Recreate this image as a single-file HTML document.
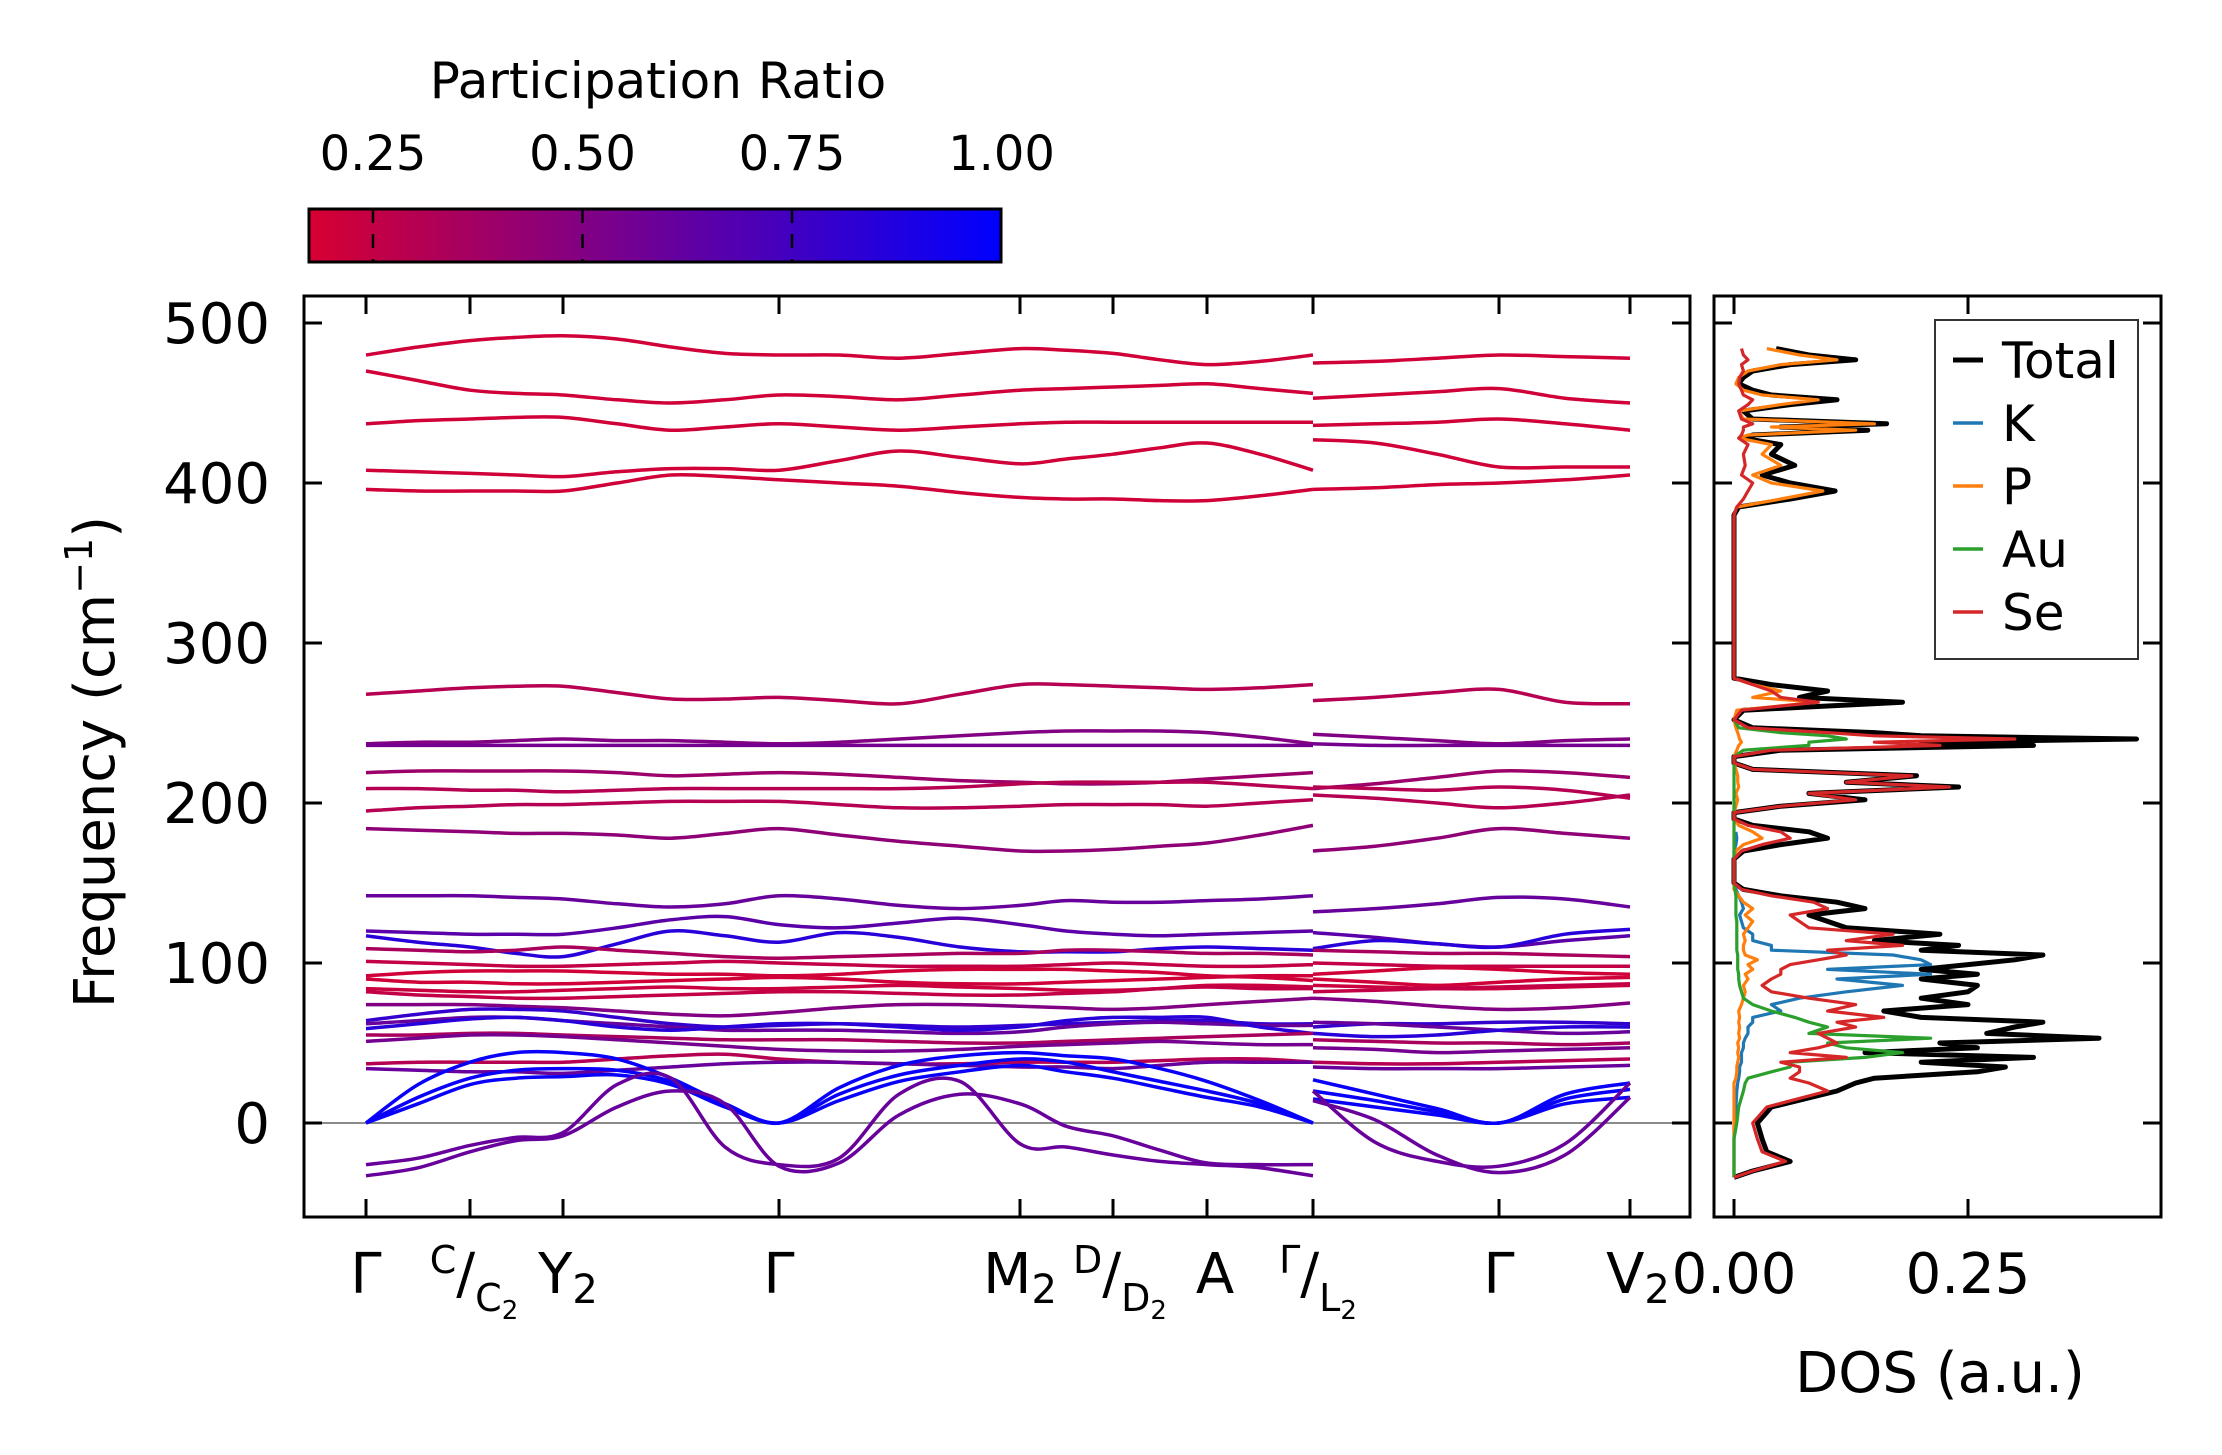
<!DOCTYPE html>
<html><head><meta charset="utf-8">
<style>
html,body{margin:0;padding:0;background:#fff;}
svg{display:block;font-family:"DejaVu Sans","Liberation Sans",sans-serif;}
</style></head>
<body>
<svg id="fig" width="2222" height="1455" viewBox="0 0 2222 1455" xmlns="http://www.w3.org/2000/svg">
<defs>
<linearGradient id="cbgrad" x1="0" x2="1" y1="0" y2="0">
<stop offset="0" stop-color="rgb(215,0,50)"/><stop offset="1" stop-color="rgb(0,0,255)"/>
</linearGradient>
<clipPath id="mainclip"><rect x="304" y="296" width="1386" height="921"/></clipPath>
<clipPath id="dosclip"><rect x="1714" y="296" width="447" height="921"/></clipPath>
</defs>
<rect x="0" y="0" width="2222" height="1455" fill="#fff"/>
<g id="colorbar">
<rect x="309" y="209" width="692" height="53" fill="url(#cbgrad)" stroke="#000" stroke-width="3"/>
<text x="658" y="98" font-size="50" text-anchor="middle">Participation Ratio</text>
</g>
<g id="bands" clip-path="url(#mainclip)"></g>
<g id="dos" clip-path="url(#dosclip)"></g>
<g id="axes"></g>
<g id="legend">
<rect x="1935" y="320" width="203" height="339" fill="#fff" stroke="#333" stroke-width="2"/>
</g>
<g font-size="56" text-anchor="middle">
<text x="366" y="1293">Γ</text>
<text x="474" y="1293"><tspan font-size="38" dy="-20">C</tspan><tspan dy="20">/</tspan><tspan font-size="38" dy="18">C</tspan><tspan font-size="26" dy="8">2</tspan></text>
<text x="568" y="1293">Y<tspan font-size="40" dy="10">2</tspan></text>
<text x="779" y="1293">Γ</text>
<text x="1020" y="1293">M<tspan font-size="40" dy="10">2</tspan></text>
<text x="1120" y="1293"><tspan font-size="38" dy="-20">D</tspan><tspan dy="20">/</tspan><tspan font-size="38" dy="18">D</tspan><tspan font-size="26" dy="8">2</tspan></text>
<text x="1215" y="1293">A</text>
<text x="1318" y="1293"><tspan font-size="38" dy="-20">Γ</tspan><tspan dy="20">/</tspan><tspan font-size="38" dy="18">L</tspan><tspan font-size="26" dy="8">2</tspan></text>
<text x="1499" y="1293">Γ</text>
<text x="1638" y="1293">V<tspan font-size="40" dy="10">2</tspan></text>
</g>
<text x="1940" y="1392" font-size="56" text-anchor="middle">DOS (a.u.)</text>
<text transform="translate(114,762) rotate(-90)" font-size="56" text-anchor="middle">Frequency (cm<tspan font-size="38" dy="-22">−1</tspan><tspan dy="22">)</tspan></text>
</svg>
<script>
// ---- Band structure data ----
const kSeg1 = [0,0.52,1.04,1.5,1.97,2.51,3.05,3.59,4.13,4.73,5.33,5.94,6.54,7.0,7.47,7.94,8.41,8.94,9.47];
const kSeg2 = [9.47,10.09,10.71,11.33,11.99,12.64];
const kTickPos = [0,1.04,1.97,4.13,6.54,7.47,8.41,9.47,11.33,12.64];
const yTicks = [0,100,200,300,400,500];
const cbTicks = [0.25,0.5,0.75,1.0];
const cbTickLabels = ["0.25","0.50","0.75","1.00"];
const bandSeg1 = [
[480,485,489,491,492,490,485,481,480,480,478,481,484,483,481,477,474,476,480],
[470,464,458,456,455,452,450,452,455,454,452,455,458,459,460,461,462,459,456],
[437,439,440,441,441,437,433,435,437,435,433,435,437,438,438,438,438,438,438],
[408,407,406,405,404,407,409,409,408,414,420,416,412,415,418,422,425,418,408],
[396,395,395,395,395,400,405,404,402,400,398,394,391,390,390,389,389,392,396],
[268,270,272,273,273,269,265,265,266,264,262,268,274,274,273,272,271,272,274],
[237,238,238,239,240,239,239,238,237,238,240,242,244,245,245,245,244,241,237],
[236,236,236,236,236,236,236,236,236,236,236,236,236,236,236,236,236,236,236],
[219,220,220,220,220,219,217,218,219,218,216,214,213,212,212,213,215,217,219],
[209,209,208,208,207,208,209,209,209,209,209,210,212,213,213,213,213,211,209],
[195,197,198,199,199,200,201,201,201,199,197,197,198,199,199,199,198,200,202],
[184,183,182,181,181,180,178,181,184,180,176,173,170,170,171,173,175,180,186],
[142,142,142,141,140,137,135,137,142,140,136,134,136,139,138,138,139,140,142],
[120,119,118,118,118,122,127,129,124,122,125,128,124,120,118,117,118,119,120],
[117,113,110,106,104,112,120,117,113,119,116,110,107,107,107,109,110,109,108],
[109,108,107,108,110,108,106,104,103,104,105,106,106,108,108,107,106,106,105],
[101,100,99,98,98,99,100,101,100,99,98,98,98,99,100,99,98,98,99],
[92,94,95,95,95,94,93,93,92,93,95,96,96,96,95,94,92,91,89],
[90,88,88,87,87,88,89,90,91,90,88,87,87,88,89,90,91,92,92],
[84,83,82,82,83,84,85,84,84,85,86,85,84,83,83,84,86,86,85],
[82,80,79,78,78,79,80,81,82,82,81,80,80,81,82,84,85,84,84],
[74,74,74,73,72,70,68,67,69,72,74,74,73,72,71,72,74,76,78],
[64,68,71,71,70,66,62,60,61,62,61,60,61,62,63,64,64,62,62],
[62,64,66,66,64,62,60,58,58,58,57,56,57,60,62,63,62,61,61],
[59,62,65,66,64,60,58,60,62,62,60,58,60,64,66,66,66,60,56],
[55,55,56,56,55,54,53,52,52,52,51,50,50,51,52,53,54,55,56],
[51,53,55,55,54,52,50,48,46,45,45,46,48,49,50,51,50,49,49],
[37,38,38,38,38,40,42,43,40,38,37,37,38,38,38,39,40,40,38],
[34,33,32,32,31,33,35,37,38,38,37,36,35,35,34,36,38,38,38],
[0,24,38,44,44,40,28,12,0,22,36,42,44,42,40,34,26,14,0],
[0,16,28,33,34,33,26,12,0,18,30,36,40,38,32,26,20,12,0],
[0,12,24,28,29,30,24,10,0,14,26,32,36,32,28,22,16,10,0],
[-26,-22,-14,-9,-6,24,28,-15,-26,-22,18,26,-13,-15,-20,-24,-26,-28,-33],
[-33,-28,-18,-11,-8,10,20,12,-27,-25,5,18,12,-2,-8,-17,-25,-26,-26]
];
const bandSeg2 = [
[475,476,478,480,479,478],
[453,455,457,459,453,450],
[436,437,438,440,437,433],
[427,425,418,410,410,410],
[396,397,399,400,402,405],
[264,266,269,271,263,262],
[243,241,239,237,239,240],
[237,236,236,236,236,236],
[209,212,216,220,219,216],
[210,209,208,210,208,203],
[205,203,200,197,200,205],
[170,173,178,184,181,178],
[132,134,137,141,140,135],
[119,116,112,110,114,117],
[109,114,112,110,118,121],
[108,107,106,106,105,104],
[100,99,98,98,98,98],
[93,95,97,96,94,93],
[90,88,86,88,90,91],
[86,85,84,84,85,86],
[82,83,84,85,86,87],
[78,76,73,71,72,75],
[60,62,62,63,63,62],
[63,62,60,58,56,57],
[56,54,55,58,60,60],
[52,51,50,50,49,50],
[47,46,44,45,46,47],
[38,37,37,38,39,40],
[35,34,34,34,35,36],
[27,18,9,0,18,25],
[20,14,7,0,15,21],
[15,10,5,0,12,16],
[20,-12,-24,-27,-13,25],
[14,2,-20,-31,-20,16]
];
const bandPR = [0.2,0.2,0.2,0.2,0.2,0.3,0.5,0.55,0.4,0.3,0.3,0.45,
  0.6,0.65,0.85,0.35,0.25,0.2,0.2,0.22,0.25,0.5,0.8,0.6,0.85,0.35,0.55,0.3,0.6,
  0.97,0.97,0.97,0.6,0.6];

// ---- DOS data ----
const dosFreq = [-34,-30,-24,-18,-10,0,10,20,25,28,32,35,38,41,44,47,50,53,56,60,63,66,70,74,78,82,86,90,93,96,99,102,105,108,111,114,118,122,126,130,134,138,142,146,150,165,170,174,178,182,186,190,194,198,202,206,210,213,217,221,225,229,233,236,238,240,242,244,247,252,258,263,266,270,274,278,380,385,390,395,400,405,411,418,424,428,430,433,435,437,440,445,449,452,455,458,462,466,470,474,477,480,484];
const dosTotal = [0,0.02,0.06,0.035,0.03,0.025,0.04,0.11,0.13,0.15,
0.26,0.29,0.2,0.32,0.14,0.26,0.22,0.39,0.27,0.3,
0.33,0.2,0.16,0.25,0.2,0.25,0.26,0.2,0.26,0.2,
0.25,0.3,0.33,0.2,0.24,0.15,0.22,0.12,0.1,0.08,
0.14,0.11,0.05,0.01,0,0,0.01,0.05,0.1,0.08,
0.02,0,0,0.05,0.14,0.08,0.24,0.12,0.195,0.02,
0,0,0.05,0.32,0.2,0.43,0.2,0.15,0.02,0,
0.01,0.18,0.07,0.1,0.04,0,0,0.005,0.06,0.108,
0.06,0.03,0.065,0.04,0.05,0.01,0.02,0.143,0.05,0.163,
0.02,0.01,0.06,0.11,0.04,0.02,0.005,0.01,0.02,0.06,
0.13,0.08,0.045];
const dosK = [0,0,0,0,0,0,0.002,0.003,0.004,0.005,
0.006,0.006,0.008,0.008,0.008,0.01,0.01,0.012,0.015,0.015,
0.02,0.02,0.05,0.04,0.07,0.12,0.18,0.11,0.21,0.1,
0.21,0.2,0.17,0.04,0.04,0.02,0.02,0.01,0.008,0.006,
0.01,0.008,0.005,0.002,0,0,0,0.002,0.003,0.002];
const dosP = [0,0,0,0,0,0,0,0,0,0.002,
0.003,0.003,0.004,0.005,0.004,0.005,0.004,0.006,0.005,0.006,
0.005,0.006,0.005,0.008,0.01,0.012,0.01,0.015,0.012,0.02,
0.015,0.025,0.012,0.01,0.01,0.012,0.01,0.015,0.02,0.012,
0.02,0.01,0.005,0,0,0,0.002,0.01,0.03,0.02,
0.005,0,0,0.002,0.004,0.002,0.005,0.004,0.004,0.002,
0,0,0.003,0.005,0.008,0.006,0.005,0.004,0.002,0,
0.003,0.09,0.02,0.05,0.02,0,0,0.003,0.05,0.095,
0.04,0.02,0.05,0.03,0.04,0.005,0.015,0.13,0.04,0.15,
0.01,0.005,0.05,0.09,0.03,0.01,0.002,0.005,0.015,0.05,
0.11,0.07,0.035];
const dosAu = [0,0,0,0,0,0.003,0.005,0.01,0.012,0.015,
0.04,0.06,0.06,0.14,0.18,0.12,0.1,0.21,0.08,0.1,
0.08,0.065,0.04,0.02,0.01,0.008,0.006,0.005,0.005,0.004,
0.004,0.004,0.004,0.003,0.003,0.003,0.003,0.003,0.003,0.002,
0.002,0.002,0.002,0.001,0,0,0,0,0,0,
0,0,0,0,0,0,0,0,0,0,
0,0,0.01,0.08,0.08,0.12,0.1,0.05,0.005,0];
const dosSe = [0,0.02,0.055,0.03,0.025,0.02,0.035,0.1,0.08,0.06,
0.07,0.07,0.05,0.12,0.06,0.09,0.11,0.1,0.09,0.13,
0.11,0.16,0.1,0.13,0.08,0.04,0.03,0.04,0.05,0.05,
0.06,0.09,0.12,0.1,0.18,0.12,0.17,0.08,0.07,0.06,
0.1,0.085,0.04,0.008,0,0,0.008,0.03,0.06,0.05,
0.015,0,0,0.05,0.13,0.08,0.23,0.12,0.19,0.02,
0,0,0.04,0.22,0.15,0.3,0.15,0.1,0.015,0,
0.008,0.09,0.05,0.04,0.02,0,0,0.003,0.01,0.015,
0.02,0.008,0.012,0.01,0.015,0.005,0.008,0.01,0.01,0.02,
0.008,0.005,0.015,0.02,0.01,0.008,0.005,0.006,0.01,0.008,
0.015,0.01,0.008];
const dosTicks = [0,0.25];
const dosTickLabels = ["0.00","0.25"];
const legendNames = ["Total","K","P","Au","Se"];
const legendColors = ["#000000","#1f77b4","#ff7f0e","#2ca02c","#d62728"];

// ---- scales ----
const NS = "http://www.w3.org/2000/svg";
const fy = f => 1123 - 1.6 * f;
const kx = k => 366 + 100 * k;
const dx = d => 1734 + 936 * d;
const cbx = v => 373 + (v - 0.25) * 838;
function prColor(pr){
  let t = (pr - 0.172) / 0.828; t = Math.max(0, Math.min(1, t));
  return "rgb(" + Math.round(215*(1-t)) + ",0," + Math.round(50 + 205*t) + ")";
}
function mk(tag, attrs, parent){
  const e = document.createElementNS(NS, tag);
  for (const a in attrs) e.setAttribute(a, attrs[a]);
  parent.appendChild(e); return e;
}
function smoothPath(pts){
  let d = "M" + pts[0][0].toFixed(1) + "," + pts[0][1].toFixed(1);
  for (let i = 0; i < pts.length - 1; i++){
    const p0 = pts[Math.max(0,i-1)], p1 = pts[i], p2 = pts[i+1], p3 = pts[Math.min(pts.length-1,i+2)];
    const c1 = [p1[0] + (p2[0]-p0[0])/6, p1[1] + (p2[1]-p0[1])/6];
    const c2 = [p2[0] - (p3[0]-p1[0])/6, p2[1] - (p3[1]-p1[1])/6];
    d += "C" + c1[0].toFixed(1)+","+c1[1].toFixed(1)+" "+c2[0].toFixed(1)+","+c2[1].toFixed(1)+" "+p2[0].toFixed(1)+","+p2[1].toFixed(1);
  }
  return d;
}
const gB = document.getElementById("bands");
const gD = document.getElementById("dos");
const gA = document.getElementById("axes");
const gL = document.getElementById("legend");
const gCB = document.getElementById("colorbar");

const zl = mk("line", {x1:304, x2:1690, y1:fy(0), y2:fy(0), stroke:"#8a8a8a", "stroke-width":2}, gB);



bandSeg1.forEach((vals, b) => {
  const col = prColor(bandPR[b]);
  const p1 = mk("path", {d: smoothPath(vals.map((f,i)=>[kx(kSeg1[i]), fy(f)])), fill:"none", stroke:col, "stroke-width":3.5, "stroke-linejoin":"round"}, gB);
  
  
  const v2 = bandSeg2[b];
  const p2 = mk("path", {d: smoothPath(v2.map((f,i)=>[kx(kSeg2[i]), fy(f)])), fill:"none", stroke:col, "stroke-width":3.5, "stroke-linejoin":"round"}, gB);
  
  
});

const dosSeries = [dosTotal, dosK, dosP, dosAu, dosSe];
const dosWidths = [5, 3.2, 3.2, 3.2, 3.2];
const dosNames = ["dos-total","dos-k","dos-p","dos-au","dos-se"];
dosSeries.forEach((arr, s) => {
  const pts = arr.map((v,i)=> dx(v).toFixed(1) + "," + fy(dosFreq[i]).toFixed(1)).join(" ");
  const pl = mk("polyline", {points: pts, fill:"none", stroke: legendColors[s], "stroke-width": dosWidths[s], "stroke-linejoin":"round"}, gD);
  
  
});

const f1 = mk("rect", {x:304, y:296, width:1386, height:921, fill:"none", stroke:"#000", "stroke-width":3}, gA);


const f2 = mk("rect", {x:1714, y:296, width:447, height:921, fill:"none", stroke:"#000", "stroke-width":3}, gA);



yTicks.forEach(v => {
  const y = fy(v);
  [[304,322],[1690,1672],[1714,1732],[2161,2143]].forEach(([a,b]) => {
    const t = mk("line", {x1:a, x2:b, y1:y, y2:y, stroke:"#000", "stroke-width":3}, gA);
    
    
  });
  const lab = mk("text", {x:270, y:y+20, "font-size":56, "text-anchor":"end"}, gA);
  lab.textContent = String(v);
  
  
});
kTickPos.forEach(k => {
  const x = kx(k);
  [[1217,1199],[296,314]].forEach(([a,b]) => {
    const t = mk("line", {x1:x, x2:x, y1:a, y2:b, stroke:"#000", "stroke-width":3}, gA);
    
    
  });
});
dosTicks.forEach((v,i) => {
  const x = dx(v);
  [[1217,1199],[296,314]].forEach(([a,b]) => {
    const t = mk("line", {x1:x, x2:x, y1:a, y2:b, stroke:"#000", "stroke-width":3}, gA);
    
    
  });
  const lab = mk("text", {x:x, y:1293, "font-size":56, "text-anchor":"middle"}, gA);
  lab.textContent = dosTickLabels[i];
  
  
});

cbTicks.forEach((v,i) => {
  const x = cbx(v);
  if (v < 1) {
    const t = mk("line", {x1:x, x2:x, y1:209, y2:262, stroke:"#000", "stroke-width":2.5, "stroke-dasharray":"14,11"}, gCB);
    
    
  }
  const lab = mk("text", {x:x, y:170, "font-size":48, "text-anchor":"middle"}, gCB);
  lab.textContent = cbTickLabels[i];
  
  
});

legendNames.forEach((n,i) => {
  const cy = 360 + i*63;
  const ln = mk("line", {x1:1953, x2:1983, y1:cy, y2:cy, stroke:legendColors[i], "stroke-width": i===0?5:3.5}, gL);
  
  
  const t = mk("text", {x:2002, y:cy+18, "font-size":50}, gL);
  t.textContent = n;
  
  
});
</script>
</body></html>
